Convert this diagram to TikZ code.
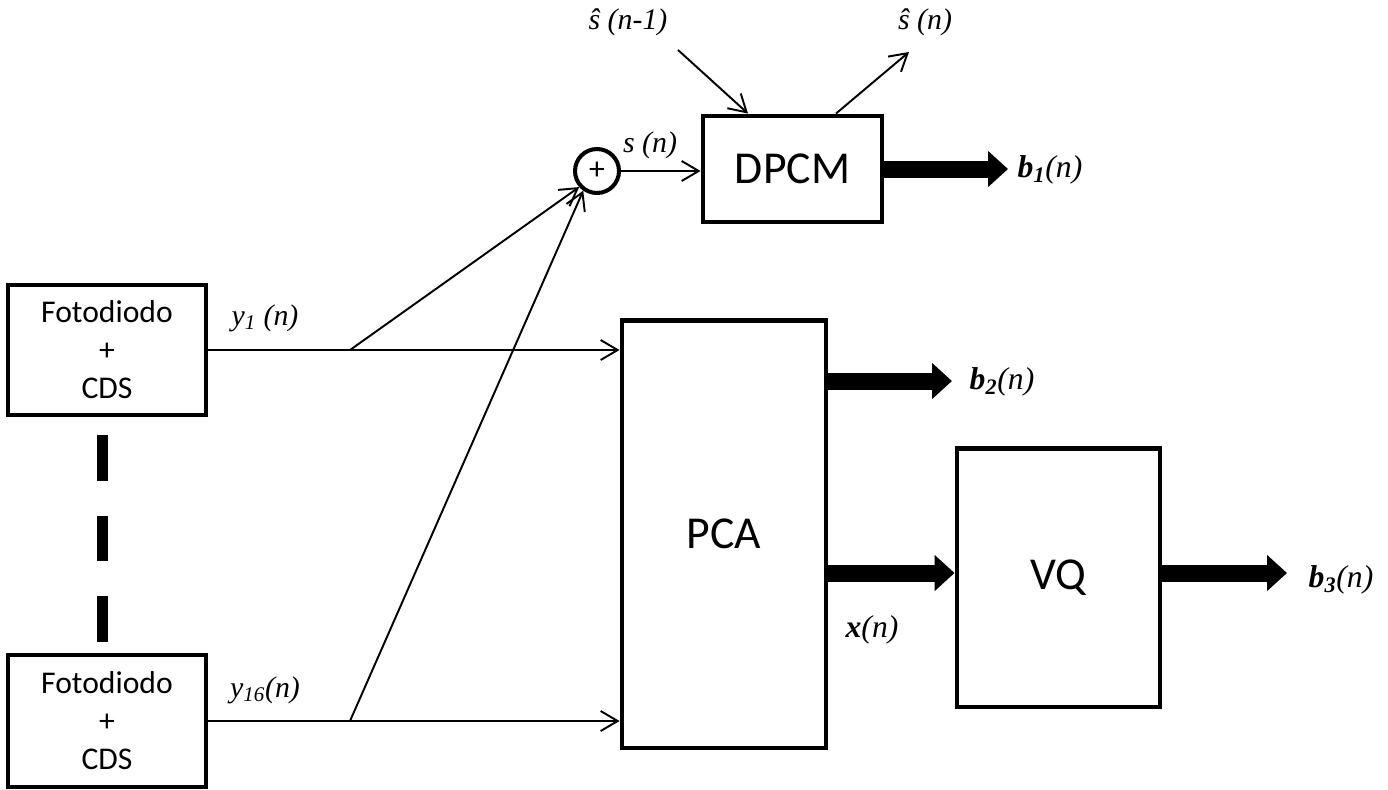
\documentclass[tikz,border=0pt]{standalone}
\usepackage{fontspec}
\setmainfont{Carlito}
\newfontfamily\sigfont{Liberation Serif}
\usetikzlibrary{arrows.meta,positioning}

\tikzset{
  block/.style={draw,line width=2.8pt,align=center,inner sep=0pt},
  sig/.style={font=\sigfont\itshape\fontsize{17}{20}\selectfont,inner sep=1pt},
  wire/.style={line width=1.1pt,-{Straight Barb[length=3.4mm,width=4mm]}},
  fat/.style={line width=0.34cm,-{Triangle[length=0.4cm,width=0.7cm]}}
}

\begin{document}
\begin{tikzpicture}[x=0.02cm,y=-0.02cm]
    \useasboundingbox (0,0) rectangle (1388,789);

    % blocks
    \node[block,minimum width=3.96cm,minimum height=2.6cm,font=\fontsize{18}{21.6}\selectfont]
      (foto1) at (107,350) {Fotodiodo\\+\\CDS};
    \node[block,minimum width=3.96cm,minimum height=2.64cm,font=\fontsize{18}{21.6}\selectfont]
      (foto16) at (107,721) {Fotodiodo\\+\\CDS};
    \node[block,minimum width=3.58cm,minimum height=2.12cm,font=\fontsize{26}{30}\selectfont]
      (dpcm) at (792.5,169) {DPCM};
    \node[block,minimum width=4.08cm,minimum height=8.56cm,font=\fontsize{26}{30}\selectfont]
      (pca) at (724,534) {PCA};
    \node[block,minimum width=4.06cm,minimum height=5.18cm,font=\fontsize{26}{30}\selectfont]
      (vq) at (1058.5,577.5) {VQ};
    \node[draw,circle,line width=2.3pt,minimum size=0.88cm,inner sep=0pt,font=\fontsize{18}{20}\selectfont]
      (sum) at (597,171) {+};

    % dotted column between the two photodiodes
    \draw[line width=0.22cm,dash pattern=on 0.92cm off 0.69cm] (102.5,435) -- (102.5,642);

    % signal labels
    \node[sig] (y1) at (265,318) {y\textsubscript{1} (n)};
    \node[sig] (y16) at (265,690) {y\textsubscript{16}(n)};
    \node[sig] (sn) at (650,145) {s (n)};
    \node[sig] (sprev) at (628,22) {ŝ (n-1)};
    \node[sig] (snext) at (925,22) {ŝ (n)};
    \node[sig,font=\sigfont\itshape\fontsize{18}{20}\selectfont] (b1) at (1050,170) {\textbf{b\textsubscript{1}}(n)};
    \node[sig,font=\sigfont\itshape\fontsize{18}{20}\selectfont] (b2) at (1002,382) {\textbf{b\textsubscript{2}}(n)};
    \node[sig,font=\sigfont\itshape\fontsize{18}{20}\selectfont] (b3) at (1341,580) {\textbf{b\textsubscript{3}}(n)};
    \node[sig,font=\sigfont\itshape\fontsize{18}{20}\selectfont] (xn) at (872,630) {\textbf{x}(n)};

    % thin connectors
    \coordinate (br1) at (350,350);
    \coordinate (br16) at (350,721);
    \coordinate (sprevtail) at (678,50);
    \coordinate (snexthead) at (909,52);
    \draw[wire] (foto1.east) -- (foto1.east -| pca.west);
    \draw[wire] (foto16.east) -- (foto16.east -| pca.west);
    \draw[wire] (br1) -- (sum.222);
    \draw[wire] (br16) -- (sum.235);
    \draw[wire] (sum.east) -- (sum.east -| dpcm.west);
    \draw[wire] (sprevtail) -- ([xshift=-0.89cm]dpcm.north);
    \draw[wire] ([xshift=0.87cm]dpcm.north) -- (snexthead);

    % thick outputs
    \coordinate (b1tip) at (1008,169);
    \coordinate (b2tip) at (952,381);
    \coordinate (b3tip) at (1287,573);
    \draw[fat] (dpcm.east) -- (b1tip);
    \draw[fat] (pca.east |- b2tip) -- (b2tip);
    \draw[fat] (pca.east |- b3tip) -- (b3tip -| vq.west);
    \draw[fat] (vq.east |- b3tip) -- (b3tip);
\end{tikzpicture}
\end{document}
